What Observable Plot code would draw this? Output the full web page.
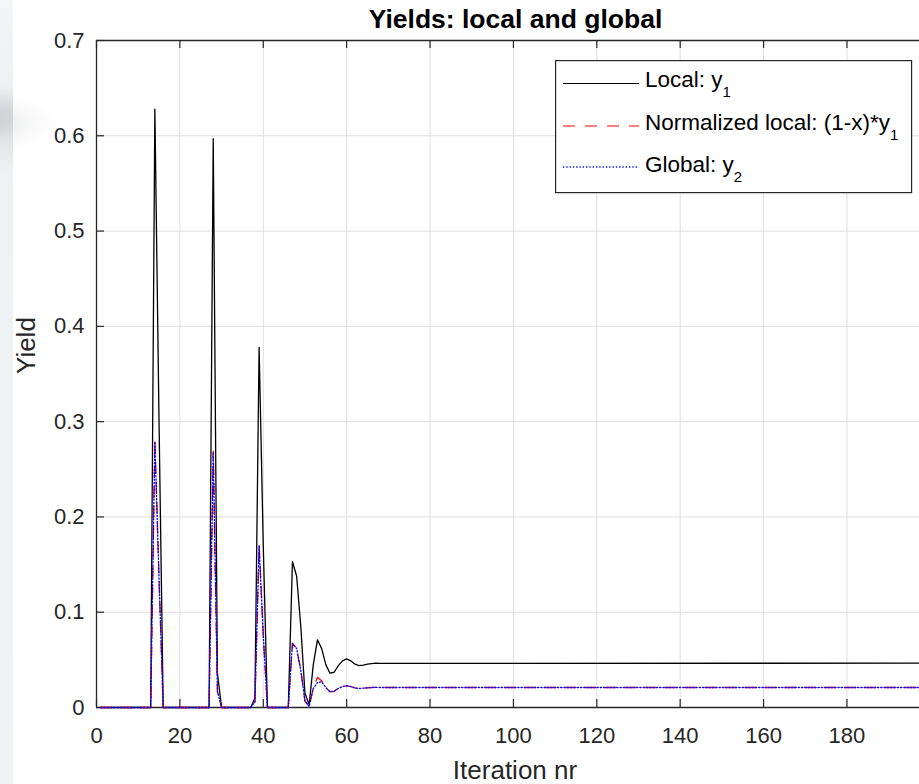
<!DOCTYPE html>
<html>
<head>
<meta charset="utf-8">
<script src="https://cdn.jsdelivr.net/npm/d3@7"></script>
<script src="https://cdn.jsdelivr.net/npm/@observablehq/plot@0.6"></script>
<style>
  html, body { margin: 0; padding: 0; background: #fff; overflow: hidden; }
  #wrap { position: relative; width: 919px; height: 784px; background: #fff; }
  #bgstrip { position: absolute; left: 0; top: 0; width: 13px; height: 784px;
    background: linear-gradient(to bottom, #f4f5f7 0%, #eef0f2 11%, #d6d7da 14%, #e2e3e6 17%, #eef0f2 22%, #f1f2f4 50%, #f0f1f3 100%); }
  #swoosh { position: absolute; left: -30px; top: 95px; width: 85px; height: 55px;
    background: radial-gradient(ellipse at 30% 50%, rgba(185,187,191,0.35) 0%, rgba(210,212,216,0.15) 45%, rgba(255,255,255,0) 75%); }
  #chart { position: absolute; left: 0; top: 0; }
  #legend { position: absolute; left: 555px; top: 60px; }
</style>
</head>
<body>
<div id="wrap">
  <div id="bgstrip"></div>
  <div id="swoosh"></div>
  <div id="chart"></div>
  <svg id="legend" width="358" height="134" xmlns="http://www.w3.org/2000/svg"
       font-family="'Liberation Sans', Arial, Helvetica, sans-serif" font-size="22.5" fill="#000">
    <rect x="0.6" y="0.6" width="356" height="132" fill="#fff" stroke="#262626" stroke-width="1.2"></rect>
    <line x1="8" x2="84" y1="23.5" y2="23.5" stroke="#000" stroke-width="1.2"></line>
    <line x1="8" x2="84" y1="66" y2="66" stroke="#ff0000" stroke-width="1.2" stroke-dasharray="12,10"></line>
    <line x1="8" x2="84" y1="107" y2="107" stroke="#0000ff" stroke-width="1.3" stroke-dasharray="1.3,2"></line>
    <text x="90" y="27">Local: y<tspan dy="10" font-size="15">1</tspan></text>
    <text x="90" y="69.5">Normalized local: (1-x)*y<tspan dy="10" font-size="15">1</tspan></text>
    <text x="90" y="111.5">Global: y<tspan dy="10" font-size="15">2</tspan></text>
  </svg>
</div>
<script>
// Iteration numbers at which the curves change shape (between them the lines are straight)
const iters     = [1, 13, 14, 15, 16, 27, 28, 29, 30, 37, 38, 39, 40, 41, 46, 47, 48, 49, 50, 51, 52, 53, 54, 55, 56, 57, 58, 59, 60, 61, 62, 63, 64, 65, 66, 67, 68, 200];
// Local: y1
const localY    = [0, 0, 0.628, 0.30, 0, 0, 0.597, 0.036, 0, 0, 0.010, 0.378, 0.170, 0, 0, 0.153, 0.138, 0.085, 0.015, 0.003, 0.045, 0.071, 0.062, 0.045, 0.036, 0.037, 0.044, 0.049, 0.051, 0.049, 0.0455, 0.044, 0.0445, 0.0455, 0.046, 0.0465, 0.0463, 0.0465];
// Normalized local: (1-x)*y1
const normY     = [0, 0, 0.281, 0.135, 0, 0, 0.269, 0.017, 0, 0, 0.006, 0.171, 0.076, 0, 0, 0.0675, 0.062, 0.039, 0.007, 0.001, 0.021, 0.0316, 0.028, 0.021, 0.0165, 0.017, 0.020, 0.022, 0.0228, 0.022, 0.0205, 0.020, 0.0203, 0.0207, 0.021, 0.0212, 0.021, 0.021];
// Global: y2
const globalY   = [0, 0, 0.279, 0.135, 0, 0, 0.268, 0.017, 0, 0, 0.006, 0.170, 0.076, 0, 0, 0.0670, 0.062, 0.039, 0.007, 0.001, 0.020, 0.026, 0.027, 0.021, 0.0165, 0.017, 0.020, 0.022, 0.0228, 0.022, 0.0205, 0.020, 0.0203, 0.0207, 0.021, 0.0212, 0.021, 0.021];

const xTicks = [0, 20, 40, 60, 80, 100, 120, 140, 160, 180];
const yTicks = [0, 0.1, 0.2, 0.3, 0.4, 0.5, 0.6, 0.7];

const rows = iters.map((x, i) => ({x, local: localY[i], norm: normY[i], glob: globalY[i]}));

const W = 919, H = 784, ML = 96, MR = 0, MT = 40, MB = 77;
const frameW = W - ML - MR, frameH = H - MT - MB;
const axisColor = "#262626";
const tickLen = 8;

const chart = Plot.plot({
  width: W, height: H,
  marginLeft: ML, marginRight: MR, marginTop: MT, marginBottom: MB,
  style: {fontFamily: "'Liberation Sans', Arial, Helvetica, sans-serif", fontSize: "22px", color: axisColor, background: "transparent"},
  x: {domain: [0, 197.4]},
  y: {domain: [0, 0.7]},
  marks: [
    Plot.gridX(xTicks.slice(1), {stroke: "#dedede", strokeOpacity: 1, strokeWidth: 1}),
    Plot.gridY(yTicks.slice(1, -1), {stroke: "#dedede", strokeOpacity: 1, strokeWidth: 1}),
    Plot.ruleY([0], {stroke: axisColor, strokeWidth: 1.3}),
    Plot.ruleY([0.7], {stroke: axisColor, strokeWidth: 1.3}),
    Plot.ruleX([0], {stroke: axisColor, strokeWidth: 1.3}),
    // inward ticks
    Plot.tickX(xTicks, {x: d => d, stroke: axisColor, strokeWidth: 1.2, insetTop: frameH - tickLen}),
    Plot.tickX(xTicks, {x: d => d, stroke: axisColor, strokeWidth: 1.2, insetBottom: frameH - tickLen}),
    Plot.tickY(yTicks, {y: d => d, stroke: axisColor, strokeWidth: 1.2, insetRight: frameW - tickLen}),
    Plot.axisX(xTicks, {anchor: "bottom", tickSize: 0, tickPadding: 20, label: null, fontSize: 22, fill: axisColor}),
    Plot.axisY(yTicks, {anchor: "left", tickSize: 0, tickPadding: 12, label: null, tickFormat: d => String(d), fontSize: 22, fill: axisColor}),
    // data
    Plot.line(rows, {x: "x", y: "local", stroke: "#000000", strokeWidth: 1.3}),
    Plot.line(rows, {x: "x", y: "norm", stroke: "#ff0000", strokeWidth: 1.3, strokeDasharray: "11,9"}),
    Plot.line(rows, {x: "x", y: "glob", stroke: "#0000ff", strokeWidth: 1.3, strokeDasharray: "1.3,2"}),
    // texts
    Plot.text(["Yields: local and global"], {frameAnchor: "top", dx: 7.5, dy: -21, fontSize: 26.5, fontWeight: "bold", fill: "#000", lineAnchor: "middle"}),
    Plot.text(["Iteration nr"], {frameAnchor: "bottom", dx: 7, dy: 63, fontSize: 26, fill: axisColor, lineAnchor: "middle"}),
    Plot.text(["Yield"], {frameAnchor: "left", dx: -70, rotate: -90, fontSize: 26, fill: axisColor, lineAnchor: "middle"})
  ]
});
document.getElementById("chart").appendChild(chart);
</script>
</body>
</html>
